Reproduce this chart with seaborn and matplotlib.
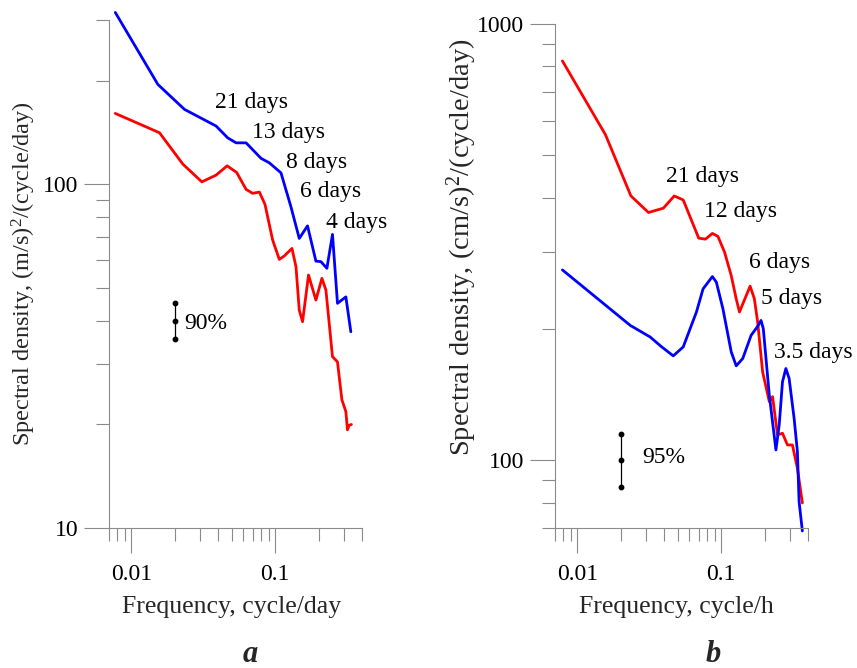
import matplotlib
matplotlib.use("Agg")
import matplotlib.pyplot as plt
from matplotlib.ticker import FixedLocator, FixedFormatter, NullFormatter
import pandas as pd
import seaborn as sns

# ---- spectra, panel a (frequency in cycle/day) ----
freq_a_red = [0.00774, 0.0157, 0.0228, 0.0309, 0.0388, 0.0463, 0.0539, 0.0627, 0.0696,
              0.0775, 0.0848, 0.0958, 0.1066, 0.1154, 0.1305, 0.1392, 0.1467, 0.1546,
              0.1701, 0.1914, 0.2107, 0.2246, 0.2495, 0.2703, 0.290, 0.309, 0.317,
              0.3257, 0.3378]
dens_a_red = [160.5, 141.0, 114.3, 101.5, 106.2, 113.0, 108.1, 96.5, 94.0,
              94.8, 87.3, 68.8, 60.4, 61.8, 65.0, 57.5, 43.0, 39.8,
              54.4, 46.0, 53.2, 49.2, 31.5, 30.4, 23.6, 21.8, 19.3,
              19.9, 20.0]
freq_a_blue = [0.00774, 0.01529, 0.0234, 0.0388, 0.0467, 0.0534, 0.0627, 0.0796, 0.0909,
               0.1095, 0.1284, 0.1467, 0.1674, 0.1914, 0.2074, 0.2282, 0.2495, 0.2703,
               0.309, 0.3346]
dens_a_blue = [315.6, 194.9, 164.9, 147.5, 136.3, 131.8, 131.8, 118.8, 115.3,
               107.8, 85.9, 69.5, 75.6, 59.7, 59.5, 56.9, 71.4, 45.0,
               47.0, 37.2]

# ---- spectra, panel b (frequency in cycle/h) ----
freq_b_red = [0.00788, 0.01567, 0.02357, 0.0312, 0.0396, 0.0471, 0.0544, 0.0697, 0.0776,
              0.0867, 0.0948, 0.1054, 0.1172, 0.1269, 0.1337, 0.1585, 0.1697, 0.1788,
              0.1936, 0.2154, 0.2269, 0.2457, 0.2660, 0.288, 0.3117, 0.3376, 0.3655]
dens_b_red = [823, 558, 403.6, 369.9, 378.4, 403.6, 395.2, 323, 321.4,
              331.2, 326, 299.8, 265.2, 234.6, 218.8, 250.8, 234.6, 207.6,
              159.6, 136.4, 140, 114.4, 115.4, 108.5, 108.5, 96.0, 79.9]
freq_b_blue = [0.00788, 0.02331, 0.03203, 0.03857, 0.04637, 0.0544, 0.0672, 0.0747, 0.0867,
               0.0924, 0.1026, 0.1172, 0.1269, 0.1409, 0.1610, 0.1788, 0.1888, 0.1957,
               0.2154, 0.2395, 0.2524, 0.266, 0.2808, 0.2958, 0.3203, 0.3376, 0.3467,
               0.3655]
dens_b_blue = [273.2, 203.9, 191.8, 182.0, 173.6, 182.0, 218.8, 247.2, 263.8,
               256.1, 222.6, 177.3, 164.7, 171.2, 193.4, 202.8, 209.3, 200.4,
               141.2, 105.7, 120.6, 151.4, 162.4, 154.1, 124.9, 104.8, 80.6,
               68.9]

# period labels: (text, frequency, density at baseline)
labels_a = [("21 days", 0.0384, 166.4), ("13 days", 0.0689, 136.1),
            ("8 days", 0.1192, 111.3), ("6 days", 0.1491, 91.7),
            ("4 days", 0.2246, 74.5)]
labels_b = [("21 days", 0.0413, 434.5), ("12 days", 0.0759, 360.8),
            ("6 days", 0.155, 276.1), ("5 days", 0.1888, 228.5),
            ("3.5 days", 0.2331, 171.2)]

# confidence intervals: (frequency, centre, lower, upper, label, label freq, label density)
ci_a = (0.02, 40.0, 35.5, 45.2, "90%", 0.0234, 37.9)
ci_b = (0.02, 100.0, 87.1, 115.2, "95%", 0.0281, 98.6)

x_major = [0.01, 0.1]
x_major_labels = ["0.01", "0.1"]
x_minor = [0.007, 0.008, 0.009, 0.02, 0.03, 0.04, 0.05, 0.06, 0.07, 0.08, 0.09,
           0.2, 0.3, 0.4]
y_major_a = [10, 100]
y_major_labels_a = ["10", "100"]
y_minor_a = [20, 30, 40, 50, 60, 70, 80, 90, 200, 300]
y_major_b = [100, 1000]
y_major_labels_b = ["100", "1000"]
y_minor_b = [70, 80, 90, 200, 300, 400, 500, 600, 700, 800, 900]

sns.set_theme(style="white")
plt.rcParams["font.family"] = ["Liberation Serif", "DejaVu Serif"]
plt.rcParams["mathtext.fontset"] = "custom"
plt.rcParams["mathtext.rm"] = "Liberation Serif"
plt.rcParams["mathtext.it"] = "Liberation Serif:italic"

FS = 17
GREY = "#8a8a8a"
palette = {"red": "#ff0000", "blue": "#0000ff"}


def frame(freq_r, dens_r, freq_b, dens_b):
    return pd.concat([
        pd.DataFrame({"freq": freq_r, "density": dens_r, "series": "red"}),
        pd.DataFrame({"freq": freq_b, "density": dens_b, "series": "blue"}),
    ], ignore_index=True)


def draw_panel(ax, df, ylim, ymaj, ymaj_lab, ymin, labels, ci):
    sns.lineplot(data=df, x="freq", y="density", hue="series", palette=palette,
                 estimator=None, legend=False, linewidth=2.0, ax=ax)
    for ln in ax.lines:
        ln.set_clip_on(False)
        ln.set_solid_joinstyle("round")
        ln.set_solid_capstyle("round")
    ax.set_xscale("log")
    ax.set_yscale("log")
    ax.set_xlim(0.007, 0.4)
    ax.set_ylim(*ylim)
    ax.xaxis.set_major_locator(FixedLocator(x_major))
    ax.xaxis.set_major_formatter(FixedFormatter(x_major_labels))
    ax.xaxis.set_minor_locator(FixedLocator(x_minor))
    ax.xaxis.set_minor_formatter(NullFormatter())
    ax.yaxis.set_major_locator(FixedLocator(ymaj))
    ax.yaxis.set_major_formatter(FixedFormatter(ymaj_lab))
    ax.yaxis.set_minor_locator(FixedLocator(ymin))
    ax.yaxis.set_minor_formatter(NullFormatter())
    ax.tick_params(which="both", direction="out", color=GREY, width=0.8,
                   labelsize=FS, labelcolor="black", bottom=True, left=True)
    ax.tick_params(which="major", length=18)
    ax.tick_params(which="minor", length=9.5)
    ax.tick_params(axis="x", which="both", pad=8)
    ax.tick_params(axis="y", which="both", pad=4)
    for side in ("top", "right"):
        ax.spines[side].set_visible(False)
    for side in ("left", "bottom"):
        ax.spines[side].set_color(GREY)
        ax.spines[side].set_linewidth(0.8)
    ax.set_xlabel("")
    ax.set_ylabel("")
    ax.grid(False)
    for txt, fx, fy in labels:
        ax.text(fx, fy, txt, fontsize=FS, ha="left", va="baseline", color="black")
    cx, cc, lo, hi, lab, lx, ly = ci
    ax.plot([cx, cx], [lo, hi], color="black", lw=0.9)
    ax.plot([cx, cx, cx], [lo, cc, hi], "o", color="black", ms=3.2)
    ax.text(lx, ly, lab, fontsize=FS, ha="left", va="baseline", color="black")


fig = plt.figure(figsize=(8.57, 6.68), dpi=100)
W, H = 857, 668
ax_a = fig.add_axes([109 / W, (H - 528) / H, 253 / W, 508 / H])
ax_b = fig.add_axes([555 / W, (H - 528) / H, 253 / W, 504 / H])

draw_panel(ax_a, frame(freq_a_red, dens_a_red, freq_a_blue, dens_a_blue),
           (10, 300), y_major_a, y_major_labels_a, y_minor_a, labels_a, ci_a)
draw_panel(ax_b, frame(freq_b_red, dens_b_red, freq_b_blue, dens_b_blue),
           (70, 1000), y_major_b, y_major_labels_b, y_minor_b, labels_b, ci_b)

fig.text(24 / W, 1 - 274 / H, r"Spectral density, (m/s)$^{2}$/(cycle/day)",
         rotation=90, ha="center", va="center", fontsize=17.5)
fig.text(462 / W, 1 - 247 / H, r"Spectral density, (cm/s)$^{2}$/(cycle/day)",
         rotation=90, ha="center", va="center", fontsize=20.5)
fig.text(232 / W, 1 - 607 / H, "Frequency, cycle/day", ha="center", va="center",
         fontsize=18.5)
fig.text(676 / W, 1 - 607 / H, "Frequency, cycle/h", ha="center", va="center",
         fontsize=18.5)
fig.text(250 / W, 1 - 655 / H, "a", ha="center", va="center", fontsize=22,
         fontweight="bold", fontstyle="italic")
fig.text(713 / W, 1 - 655 / H, "b", ha="center", va="center", fontsize=22,
         fontweight="bold", fontstyle="italic")

fig.savefig("out.png", dpi=100, facecolor="white")
